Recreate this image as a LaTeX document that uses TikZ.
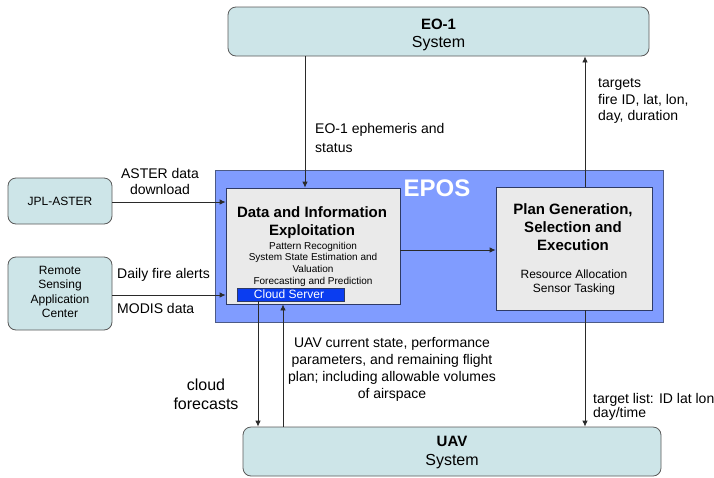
\documentclass[tikz,border=0pt]{standalone}
\usepackage{fontspec}
\setmainfont{Liberation Sans}
\usetikzlibrary{arrows.meta}
\definecolor{tealfill}{HTML}{CDE5E8}
\definecolor{tealline}{HTML}{5A5A5A}
\definecolor{eposblue}{HTML}{809CFF}
\definecolor{eposline}{HTML}{4C5A86}
\definecolor{grayfill}{HTML}{EAEAEA}
\definecolor{grayline}{HTML}{2E3A66}
\definecolor{cloudblue}{HTML}{0B3DF0}
\definecolor{lncol}{HTML}{2A2A2A}
\begin{document}
\begin{tikzpicture}[x=1pt,y=-1pt,
  sysbox/.style={draw=tealline,fill=tealfill,rounded corners=8pt,line width=0.8pt,inner sep=0pt},
  eposbox/.style={draw=eposline,fill=eposblue,line width=0.8pt,inner sep=0pt},
  funcbox/.style={draw=grayline,fill=grayfill,line width=0.8pt,inner sep=0pt},
  cloudbox/.style={draw=grayline,fill=cloudblue,line width=0.6pt,inner sep=0pt},
  txt/.style={inner sep=0pt,text=black},
  arr/.style={draw=lncol,line width=0.8pt,-{Latex[length=6pt,width=5.5pt]}}
]
\useasboundingbox (0,0) rectangle (714,477);

% boxes
\node[sysbox,minimum width=421pt,minimum height=49pt] (eo1) at (438.5,31.5) {};
\node[sysbox,minimum width=418pt,minimum height=49pt] (uav) at (452,451.5) {};
\node[sysbox,minimum width=104pt,minimum height=46pt] (jpl) at (60,201) {};
\node[sysbox,minimum width=104pt,minimum height=73pt] (rsac) at (60,293.5) {};
\node[eposbox,minimum width=448pt,minimum height=152pt] (epos) at (439,246) {};
\node[funcbox,minimum width=174pt,minimum height=116pt] (data) at (313,246) {};
\node[funcbox,minimum width=156pt,minimum height=123pt] (plan) at (574,248.5) {};
\node[cloudbox,minimum width=107pt,minimum height=13pt] (cloud) at (290.5,294.5) {};

% texts in boxes
\node[txt,font=\fontsize{15}{18}\selectfont\bfseries] (eo1t) at (438.5,24) {EO-1};
\node[txt,font=\fontsize{16}{18}\selectfont] (eo1s) at (438.5,44) {System};
\node[txt,font=\fontsize{15}{18}\selectfont\bfseries] (uavt) at (452,441) {UAV};
\node[txt,font=\fontsize{16}{18}\selectfont] (uavs) at (452,462) {System};
\node[txt,font=\fontsize{12}{14}\selectfont] (jplt) at (60,201) {JPL-ASTER};
\node[txt,font=\fontsize{12}{14.3}\selectfont,align=center] (rsact) at (60,292) {Remote\\Sensing\\Application\\Center};
\node[txt,font=\fontsize{24}{26}\selectfont\bfseries,text=white] (epost) at (437,188) {EPOS};
\node[txt,font=\fontsize{15}{18}\selectfont\bfseries,align=center] (datat) at (312,222.5) {Data and Information\\Exploitation};
\node[txt,font=\fontsize{10}{11.7}\selectfont,align=center] (datas) at (313,264) {Pattern Recognition\\System State Estimation and\\Valuation\\Forecasting and Prediction};
\node[txt,font=\fontsize{12}{14}\selectfont,text=white] (cloudt) at (289,294.5) {Cloud Server};
\node[txt,font=\fontsize{15}{18}\selectfont\bfseries,align=center] (plant) at (573,227.5) {Plan Generation,\\Selection and\\Execution};
\node[txt,font=\fontsize{12}{14}\selectfont,align=center] (plans) at (574,282.5) {Resource Allocation\\Sensor Tasking};

% connector labels
\node[txt,font=\fontsize{14}{16}\selectfont,align=center] (l1) at (160,181.5) {ASTER data\\download};
\node[txt,font=\fontsize{14}{16}\selectfont,anchor=west] (l2) at (117,275) {Daily fire alerts};
\node[txt,font=\fontsize{14}{16}\selectfont,anchor=west] (l3) at (117,308) {MODIS data};
\node[txt,font=\fontsize{14}{19}\selectfont,align=left,anchor=west] (l4) at (315,138) {EO-1 ephemeris and\\status};
\node[txt,font=\fontsize{14}{16.5}\selectfont,align=left,anchor=west] (l5) at (598,101) {targets\\fire ID, lat, lon,\\day, duration};
\node[txt,font=\fontsize{14}{17}\selectfont,align=center] (l6) at (392,369.5) {UAV current state, performance\\parameters, and remaining flight\\plan; including allowable volumes\\of airspace};
\node[txt,font=\fontsize{16}{19}\selectfont,align=center] (l7) at (206,394.5) {cloud\\forecasts};
\node[txt,font=\fontsize{14}{14.5}\selectfont,align=left,anchor=west] (l8) at (593,407) {target list: ID lat lon\\day/time};

% connector positions
\coordinate (xe) at (305,0);
\coordinate (xp) at (585,0);
\coordinate (xc) at (258,0);
\coordinate (xu) at (283,0);
\coordinate (yj) at (0,202);
\coordinate (ym) at (0,295);
\coordinate (yd) at (0,250);

% connectors
\draw[arr] (eo1.south -| xe) -- (data.north -| xe);
\draw[arr] (plan.north -| xp) -- (eo1.south -| xp);
\draw[arr] (plan.south -| xp) -- (uav.north -| xp);
\draw[arr] (jpl.east |- yj) -- (data.west |- yj);
\draw[arr] (rsac.east |- ym) -- (data.west |- ym);
\draw[arr] (data.east |- yd) -- (plan.west |- yd);
\draw[arr] (cloud.south -| xc) -- (uav.north -| xc);
\draw[arr] (uav.north -| xu) -- (data.south -| xu);
\end{tikzpicture}
\end{document}
